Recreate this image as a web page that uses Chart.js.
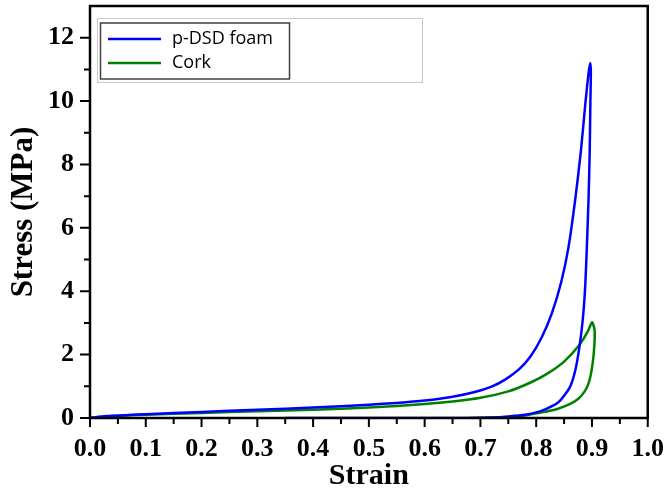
<!DOCTYPE html>
<html>
<head>
<meta charset="utf-8">
<title>Stress-strain</title>
<script src="https://cdn.jsdelivr.net/npm/chart.js@4.4.0/dist/chart.umd.min.js"></script>
<style>
  html, body { margin: 0; padding: 0; background: #fff; }
  #wrap { width: 672px; height: 490px; position: relative; }
</style>
</head>
<body>
<div id="wrap"><canvas id="stressChart"></canvas></div>
<script>
// p-DSD foam: loading then unloading
const foamStrain = [0, 0.03, 0.1, 0.2, 0.3, 0.4, 0.5, 0.55, 0.6, 0.65, 0.69, 0.72, 0.745, 0.77, 0.79, 0.81, 0.828, 0.845, 0.858, 0.87, 0.88, 0.888, 0.894, 0.897,
                    0.898, 0.897, 0.896, 0.894, 0.891, 0.888, 0.884, 0.878, 0.87, 0.86, 0.84, 0.82, 0.805, 0.78, 0.75, 0.72, 0.69, 0.35];
const foamStress = [0, 0.06, 0.12, 0.19, 0.26, 0.33, 0.42, 0.475, 0.55, 0.67, 0.82, 0.99, 1.22, 1.55, 1.95, 2.55, 3.3, 4.3, 5.4, 6.9, 8.4, 9.9, 10.9, 11.2,
                    10.9, 9.8, 8.47, 7.0, 5.47, 4.2, 3.2, 2.3, 1.5, 0.96, 0.5, 0.3, 0.2, 0.1, 0.05, 0.015, 0, 0];

// Cork: loading then unloading
const corkStrain = [0, 0.03, 0.1, 0.2, 0.3, 0.4, 0.5, 0.6, 0.65, 0.7, 0.75, 0.79, 0.82, 0.85, 0.878, 0.893, 0.9,
                    0.904, 0.905, 0.903, 0.899, 0.894, 0.887, 0.875, 0.858, 0.835, 0.804, 0.78, 0.75, 0.72, 0.68];
const corkStress = [0, 0.05, 0.1, 0.16, 0.21, 0.26, 0.33, 0.44, 0.52, 0.64, 0.84, 1.12, 1.4, 1.78, 2.32, 2.75, 3.02,
                    2.85, 2.6, 2.0, 1.47, 1.1, 0.84, 0.6, 0.42, 0.27, 0.16, 0.08, 0.03, 0.01, 0];

const seriesNames = ['p-DSD foam', 'Cork'];
const seriesColors = ['#0000ff', '#008000'];

const xTicks = [0, 0.1, 0.2, 0.3, 0.4, 0.5, 0.6, 0.7, 0.8, 0.9, 1.0];
const xMinorTicks = [0.05, 0.15, 0.25, 0.35, 0.45, 0.55, 0.65, 0.75, 0.85, 0.95];
const yTicks = [0, 2, 4, 6, 8, 10, 12];
const yMinorTicks = [1, 3, 5, 7, 9, 11];

const serifBold = { family: "'Liberation Serif', 'Times New Roman', serif", weight: 'bold' };

function toPoints(xs, ys) {
    return xs.map((x, i) => ({ x: x, y: ys[i] }));
}

// frame, tick marks and the boxed legend drawn on top of the chart
const framePlugin = {
    id: 'frame',
    afterDraw(chart) {
        const ctx = chart.ctx;
        const area = chart.chartArea;
        const xs = chart.scales.x;
        const ys = chart.scales.y;
        ctx.save();
        ctx.strokeStyle = '#000';
        ctx.lineWidth = 2.5;
        ctx.strokeRect(area.left, area.top, area.right - area.left, area.bottom - area.top);

        ctx.lineWidth = 2;
        ctx.beginPath();
        xTicks.forEach(v => {
            const px = xs.getPixelForValue(v);
            ctx.moveTo(px, area.bottom); ctx.lineTo(px, area.bottom + 9);
        });
        xMinorTicks.forEach(v => {
            const px = xs.getPixelForValue(v);
            ctx.moveTo(px, area.bottom); ctx.lineTo(px, area.bottom + 6);
        });
        yTicks.forEach(v => {
            const py = ys.getPixelForValue(v);
            ctx.moveTo(area.left, py); ctx.lineTo(area.left - 10, py);
        });
        yMinorTicks.forEach(v => {
            const py = ys.getPixelForValue(v);
            ctx.moveTo(area.left, py); ctx.lineTo(area.left - 6, py);
        });
        ctx.stroke();

        // legend
        ctx.lineWidth = 1;
        ctx.strokeStyle = '#c8c8c8';
        ctx.strokeRect(97.5, 18.5, 325, 64);
        ctx.strokeStyle = '#404040';
        ctx.lineWidth = 1.5;
        ctx.strokeRect(100.5, 23, 189, 56);
        ctx.font = "18px 'Open Sans', sans-serif";
        ctx.fillStyle = '#000';
        ctx.textBaseline = 'middle';
        seriesNames.forEach((name, i) => {
            const y = 39 + i * 24;
            ctx.strokeStyle = seriesColors[i];
            ctx.lineWidth = 2.5;
            ctx.beginPath();
            ctx.moveTo(108, y); ctx.lineTo(161, y);
            ctx.stroke();
            ctx.fillText(name, 172, y);
        });
        ctx.restore();
    }
};

new Chart(document.getElementById('stressChart'), {
    type: 'scatter',
    data: {
        datasets: [{
            label: seriesNames[0],
            data: toPoints(foamStrain, foamStress),
            borderColor: seriesColors[0],
            backgroundColor: seriesColors[0],
            borderWidth: 2.5,
            showLine: true,
            pointRadius: 0,
            tension: 0.2
        }, {
            label: seriesNames[1],
            data: toPoints(corkStrain, corkStress),
            borderColor: seriesColors[1],
            backgroundColor: seriesColors[1],
            borderWidth: 2.5,
            showLine: true,
            pointRadius: 0,
            tension: 0.2
        }]
    },
    options: {
        responsive: true,
        maintainAspectRatio: false,
        animation: false,
        layout: { padding: { top: 6, right: 19, left: 0, bottom: 0 } },
        plugins: {
            legend: { display: false },
            tooltip: { enabled: false }
        },
        scales: {
            x: {
                type: 'linear',
                min: 0,
                max: 1,
                afterBuildTicks: s => { s.ticks = xTicks.map(v => ({ value: v })); },
                afterFit: s => { s.height = 72; },
                grid: { display: false },
                border: { display: false },
                ticks: {
                    color: '#000',
                    font: Object.assign({ size: 26 }, serifBold),
                    padding: 8,
                    maxRotation: 0,
                    autoSkip: false,
                    callback: v => v.toFixed(1)
                },
                title: {
                    display: true,
                    text: 'Strain',
                    color: '#000',
                    font: Object.assign({ size: 30 }, serifBold),
                    padding: { top: 0, bottom: -4 }
                }
            },
            y: {
                type: 'linear',
                min: 0,
                max: 13,
                afterBuildTicks: s => { s.ticks = yTicks.map(v => ({ value: v })); },
                afterFit: s => { s.width = 90; s.paddingTop = 0; s.paddingBottom = 0; },
                grid: { display: false },
                border: { display: false },
                ticks: {
                    color: '#000',
                    font: Object.assign({ size: 26 }, serifBold),
                    padding: 8
                },
                title: {
                    display: true,
                    text: 'Stress (MPa)',
                    color: '#000',
                    font: Object.assign({ size: 31 }, serifBold),
                    padding: { top: 5, bottom: 0 }
                }
            }
        }
    },
    plugins: [framePlugin]
});
</script>
</body>
</html>
